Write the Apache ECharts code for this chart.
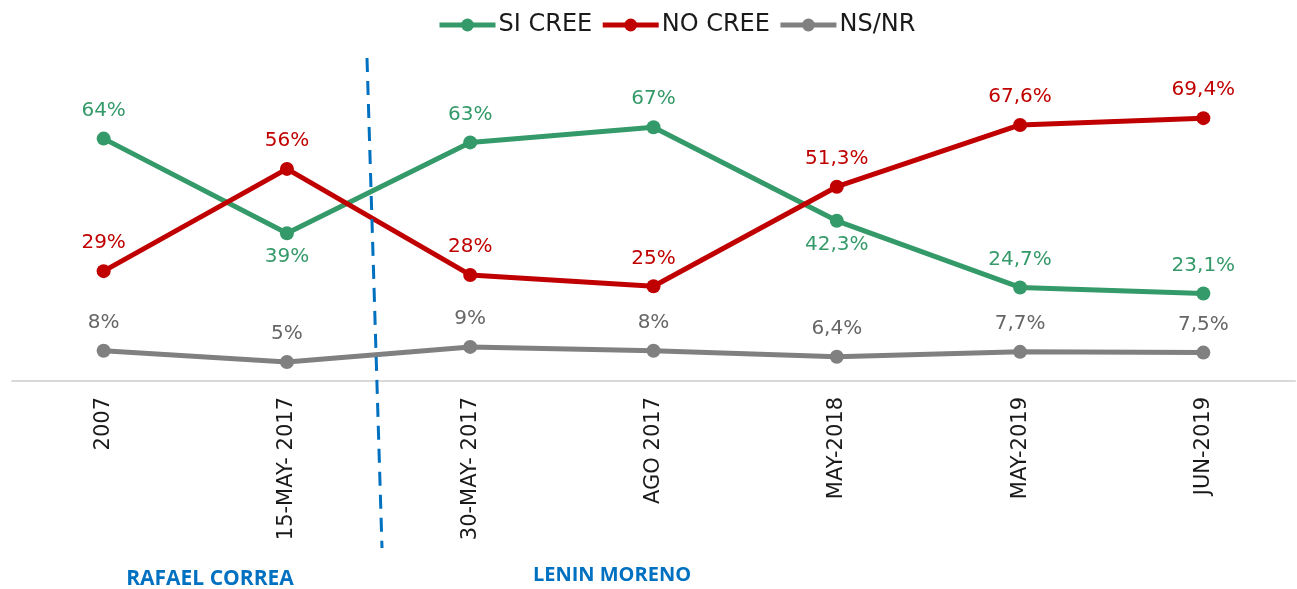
<!DOCTYPE html>
<html>
<head>
<meta charset="utf-8">
<script src="https://cdn.jsdelivr.net/npm/echarts@6/dist/echarts.min.js"></script>
<style>
  html, body { margin: 0; padding: 0; background: #fff; }
  #chart { width: 1297px; height: 589px; }
</style>
</head>
<body>
<div id="chart"></div>
<script>
const categories = ['2007', '15-MAY- 2017', '30-MAY- 2017', 'AGO 2017', 'MAY-2018', 'MAY-2019', 'JUN-2019'];
const siCree = [64, 39, 63, 67, 42.3, 24.7, 23.1];
const noCree = [29, 56, 28, 25, 51.3, 67.6, 69.4];
const nsNr = [8, 5, 9, 8, 6.4, 7.7, 7.5];
// which labels of SI CREE sit under the point
const siBelow = [false, true, false, false, true, false, false];

let chartDom = document.getElementById('chart');
let myChart = echarts.init(chartDom);

const fmt = v => String(v).replace('.', ',') + '%';
const labelFont = 'DejaVu Sans';

const makeData = (values, color, below) => values.map((v, i) => ({
    value: v,
    label: {
        show: true,
        position: below && below[i] ? 'bottom' : 'top',
        distance: below && below[i] ? 7 : 11,
        color,
        fontSize: 20,
        fontFamily: labelFont,
        formatter: p => fmt(p.value),
    },
}));

const lineSeries = (name, color, values, below, labelColor) => ({
    name,
    type: 'line',
    color,
    data: makeData(values, labelColor || color, below),
    lineStyle: { width: 5, color },
    itemStyle: { color },
    symbol: 'circle',
    symbolSize: 14,
    z: 3,
});

const option = {
    animation: false,
    legend: {
        top: 8,
        left: 432,
        itemWidth: 56,
        itemHeight: 16,
        itemGap: 8,
        lineStyle: { width: 5 },
        textStyle: { fontSize: 24, fontFamily: labelFont, color: '#1a1a1a', padding: [0, 0, 0, -2] },
        data: ['SI CREE', 'NO CREE', 'NS/NR'],
    },
    grid: {
        left: 12,
        right: 2,
        top: 78,
        bottom: 208,
    },
    xAxis: {
        type: 'category',
        data: categories,
        axisLine: { lineStyle: { color: '#d9d9d9', width: 2 } },
        axisTick: { show: false },
        axisLabel: {
            rotate: 90,
            margin: 16,
            fontSize: 21,
            fontFamily: labelFont,
            color: '#1a1a1a',
        },
    },
    yAxis: {
        type: 'value',
        min: 0,
        max: 80,
        show: false,
        splitLine: { show: false },
    },
    graphic: [
        {
            type: 'line',
            shape: { x1: 367, y1: 58, x2: 382, y2: 548 },
            style: { stroke: '#0070c0', lineWidth: 3, lineDash: [14, 9] },
            z: 10,
        },
        {
            type: 'text',
            x: 210,
            y: 579,
            style: { text: 'RAFAEL CORREA', fill: '#0070c0', fontSize: 21, fontWeight: 'bold', fontFamily: 'Open Sans', align: 'center', verticalAlign: 'middle' },
        },
        {
            type: 'text',
            x: 612,
            y: 575,
            style: { text: 'LENIN MORENO', fill: '#0070c0', fontSize: 20, fontWeight: 'bold', fontFamily: 'Open Sans', align: 'center', verticalAlign: 'middle' },
        },
    ],
    series: [
        lineSeries('SI CREE', '#359a69', siCree, siBelow),
        lineSeries('NO CREE', '#c00000', noCree),
        lineSeries('NS/NR', '#808080', nsNr, null, '#666666'),
    ],
};

myChart.setOption(option);
</script>
</body>
</html>
